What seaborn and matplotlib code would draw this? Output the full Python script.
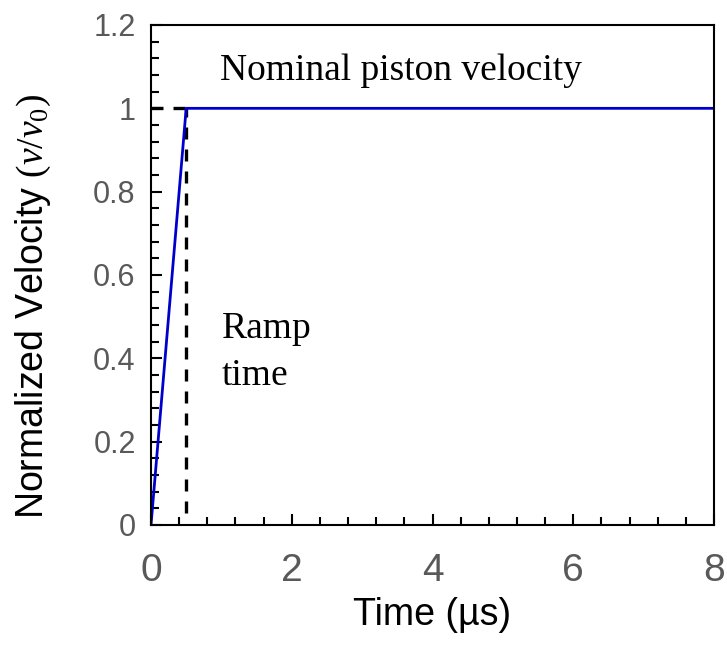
import matplotlib
matplotlib.use("Agg")
import matplotlib.pyplot as plt
import seaborn as sns
import pandas as pd
from matplotlib.ticker import MultipleLocator

time_us = [0.0, 0.5, 8.0]
velocity = [0.0, 1.0, 1.0]
ramp_time = 0.5
nominal = 1.0
x_ticks = [0, 2, 4, 6, 8]
x_tick_labels = ["0", "2", "4", "6", "8"]
y_ticks = [0, 0.2, 0.4, 0.6, 0.8, 1.0, 1.2]
y_tick_labels = ["0", "0.2", "0.4", "0.6", "0.8", "1", "1.2"]

sns.set_theme(style="white")
plt.rcParams['font.family'] = ['Liberation Sans', 'DejaVu Sans']
plt.rcParams['mathtext.fontset'] = 'custom'
plt.rcParams['mathtext.it'] = 'Liberation Serif:italic'
plt.rcParams['mathtext.rm'] = 'Liberation Serif'

df = pd.DataFrame({"t": time_us, "v": velocity})

fig = plt.figure(figsize=(7.27, 6.45), dpi=100)
ax = fig.add_axes([151/727, 1-525/645, (714-151)/727, 500/645])

ax.plot([ramp_time, ramp_time], [0.03, nominal], color='black', ls=(0, (3.6, 3.0)), lw=2.4)
ax.plot([0, ramp_time], [nominal, nominal], color='black', ls=(0, (3.6, 3.0)), lw=2.4)
sns.lineplot(data=df, x="t", y="v", ax=ax, color='#0000cc', lw=2, sort=False)

ax.set_xlim(0, 8)
ax.set_ylim(0, 1.2)
ax.xaxis.set_minor_locator(MultipleLocator(0.4))
ax.yaxis.set_minor_locator(MultipleLocator(0.04))
ax.set_xticks(x_ticks)
ax.set_xticklabels(x_tick_labels)
ax.set_yticks(y_ticks)
ax.set_yticklabels(y_tick_labels)
ax.tick_params(which='major', direction='in', length=8, width=1.5,
               labelcolor='#595959', color='black', bottom=True, left=True)
ax.tick_params(axis='x', which='major', labelsize=28, pad=20)
ax.tick_params(axis='y', which='major', labelsize=22, pad=11)
ax.tick_params(which='minor', direction='in', length=5.5, width=1.5, color='black',
               bottom=True, left=True)
for s in ax.spines.values():
    s.set_color('black')
    s.set_linewidth(1.5)

ax.set_xlabel("Time (µs)", fontsize=27, color='black', labelpad=6)
ax.set_ylabel(r"Normalized Velocity $(\mathit{v/v_0})$", fontsize=27, color='black',
              labelpad=29, y=0.436)

ax.text(0.98, 1.068, "Nominal piston velocity", family='Liberation Serif', fontsize=27,
        va='baseline', ha='left', color='black')
ax.text(1.01, 0.449, "Ramp", family='Liberation Serif', fontsize=27,
        va='baseline', ha='left', color='black')
ax.text(1.01, 0.336, "time", family='Liberation Serif', fontsize=27,
        va='baseline', ha='left', color='black')

fig.savefig("out.png", dpi=100)
